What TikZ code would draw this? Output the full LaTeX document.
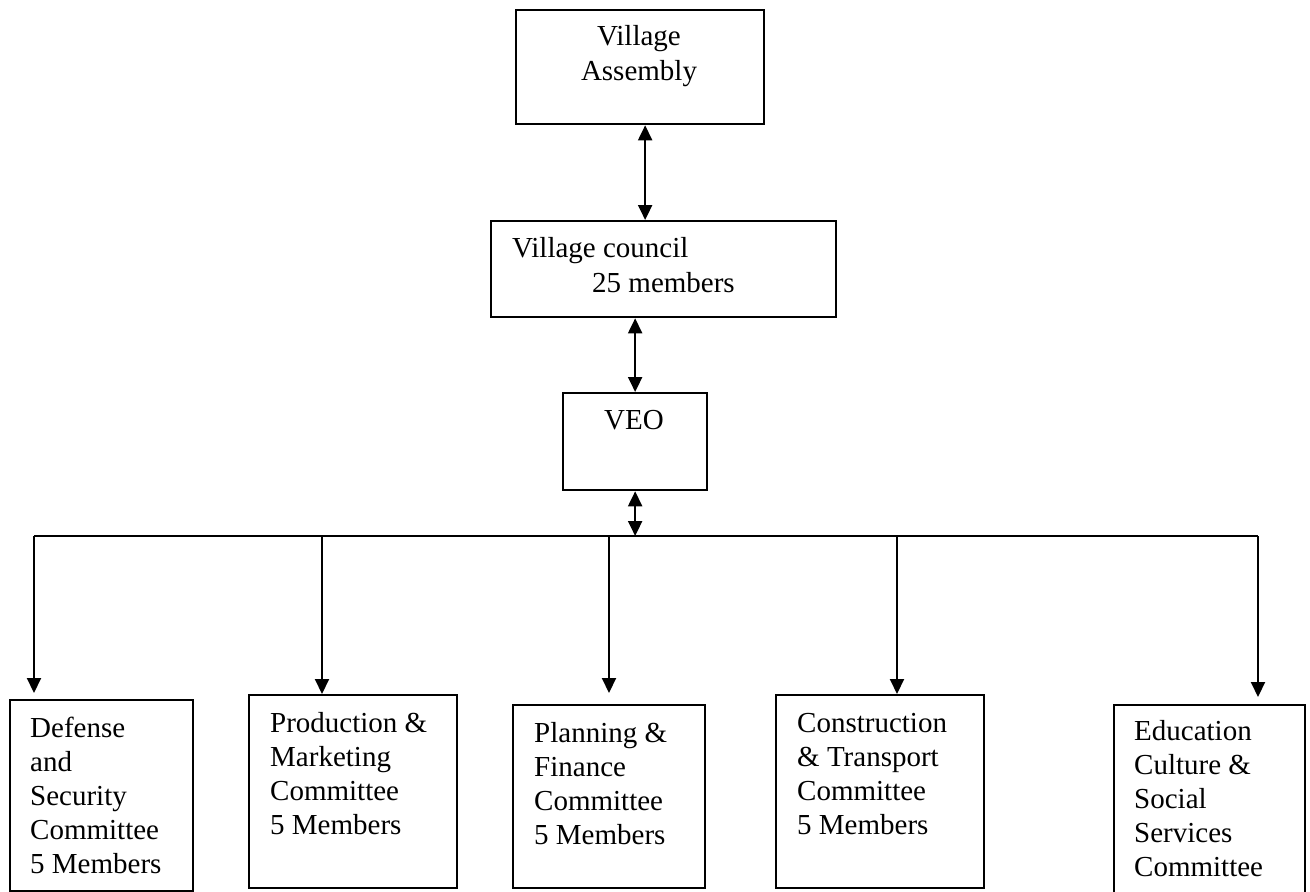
\documentclass[tikz,border=0pt]{standalone}
\usepackage{fontspec}
\setmainfont{Liberation Serif}
\usetikzlibrary{arrows.meta,calc}
\begin{document}
\begin{tikzpicture}[x=1pt,y=-1pt,
  box/.style={draw,line width=2.3pt,rectangle,anchor=north west,inner sep=0pt},
  txt/.style={inner sep=0pt,align=left,anchor=base west,font=\fontsize{29}{34}\selectfont},
  ctxt/.style={inner sep=0pt,align=center,anchor=base,font=\fontsize{29}{35}\selectfont},
  arr/.style={line width=2pt,-{Triangle[length=15pt,width=14pt]}},
  dbl/.style={line width=2pt,{Triangle[length=15pt,width=14pt]}-{Triangle[length=15pt,width=14pt]}},
  bus/.style={line width=2pt}]
\useasboundingbox (0,0) rectangle (1310,892);
% top boxes
\node[box,minimum width=248pt,minimum height=114pt] (va) at (515,9) {};
\node[ctxt] (vat) at (639,80) {Village\\Assembly};
\node[box,minimum width=345pt,minimum height=96pt] (vc) at (490,220) {};
\node[txt,font=\fontsize{29}{35}\selectfont] (vct) at (512,292) {Village council\\\hspace*{80pt}25 members};
\node[box,minimum width=144pt,minimum height=97pt] (veo) at (562,392) {};
\node[ctxt] (veot) at (634,429) {VEO};
% committee boxes
\node[box,minimum width=183pt,minimum height=191pt] (b1) at (9,699) {};
\node[box,minimum width=208pt,minimum height=193pt] (b2) at (248,694) {};
\node[box,minimum width=192pt,minimum height=183pt] (b3) at (512,704) {};
\node[box,minimum width=208pt,minimum height=193pt] (b4) at (775,694) {};
\node[box,minimum width=191pt,minimum height=210pt] (b5) at (1113,704) {};
\node[txt] (t1) at (30,873) {Defense\\and\\Security\\Committee\\5 Members};
\node[txt] (t2) at (270,834) {Production \&\\Marketing\\Committee\\5 Members};
\node[txt] (t3) at (534,844) {Planning \&\\Finance\\Committee\\5 Members};
\node[txt] (t4) at (797,834) {Construction\\\& Transport\\Committee\\5 Members};
\node[txt] (t5) at (1134,876) {Education\\Culture \&\\Social\\Services\\Committee};
% bus coordinates
\coordinate (d1) at (34,536);
\coordinate (d2) at (322,536);
\coordinate (d3) at (609,536);
\coordinate (d4) at (897,536);
\coordinate (d5) at (1258,536);
\coordinate (dv) at (veo.south |- d1);
% connectors
\draw[dbl] ([xshift=5pt]va.south) -- ([xshift=5pt]va.south |- vc.north);
\draw[dbl] (veo.north |- vc.south) -- (veo.north);
\draw[dbl] (veo.south) -- (dv);
\draw[bus] (d1) -- (d5);
\draw[arr,shorten >=6pt] (d1) -- (d1 |- b1.north);
\draw[arr] (d2) -- (d2 |- b2.north);
\draw[arr,shorten >=11pt] (d3) -- (d3 |- b3.north);
\draw[arr] (d4) -- (d4 |- b4.north);
\draw[arr,shorten >=7pt] (d5) -- (d5 |- b5.north);
\end{tikzpicture}
\end{document}
